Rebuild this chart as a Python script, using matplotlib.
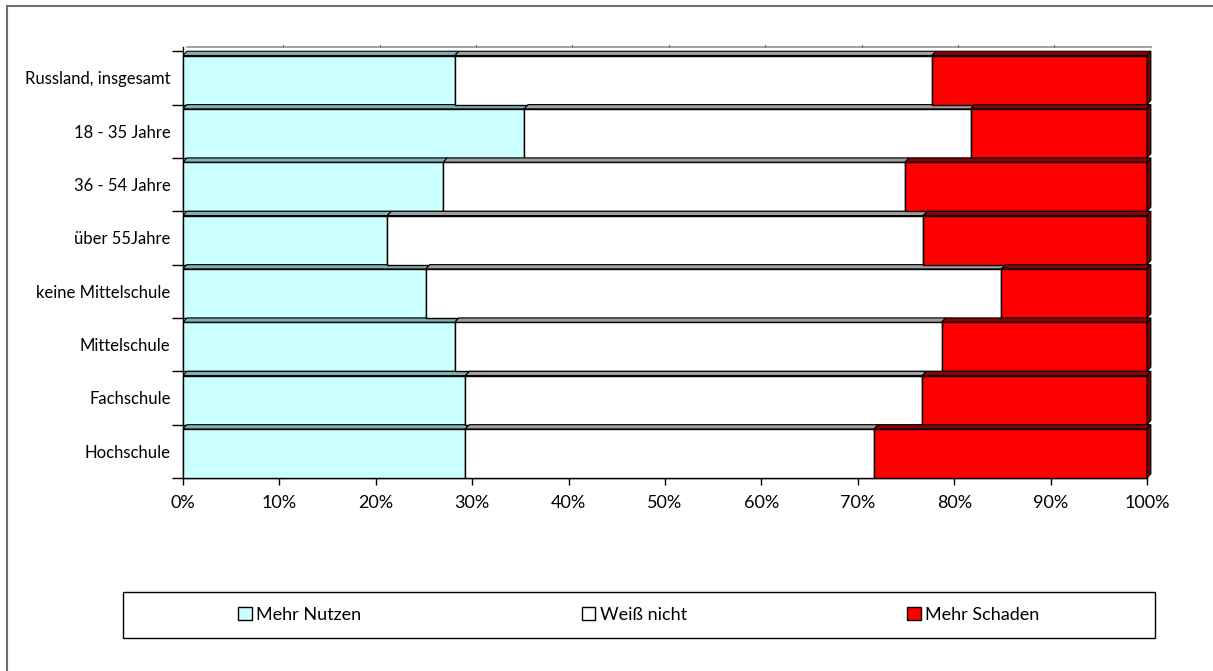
import numpy as np
import matplotlib.pyplot as plt
from matplotlib.patches import Polygon, Rectangle

# Umfrage: Nutzen oder Schaden, Anteile in Prozent
kategorien = ['Russland, insgesamt', '18 - 35 Jahre', '36 - 54 Jahre', 'über 55Jahre',
              'keine Mittelschule', 'Mittelschule', 'Fachschule', 'Hochschule']
mehr_nutzen = [28.2, 35.4, 27.0, 21.2, 25.2, 28.2, 29.3, 29.3]
weiss_nicht = [49.5, 46.3, 47.9, 55.6, 59.7, 50.5, 47.4, 42.4]
mehr_schaden = [22.3, 18.3, 25.1, 23.2, 15.1, 21.3, 23.3, 28.3]
reihen = ['Mehr Nutzen', 'Weiß nicht', 'Mehr Schaden']

farben = ['#CCFFFF', '#FFFFFF', '#FF0000']
deckel = ['#7FAFAF', '#A0A0A0', '#8B0000']

plt.rcParams['font.family'] = ['Lato', 'DejaVu Sans']

fig = plt.figure(figsize=(12.13, 6.71), dpi=100)
ax = fig.add_axes([0.1509, 0.2876, 0.7947, 0.6424])

n = len(kategorien)
y = np.arange(n)[::-1]          # erste Kategorie oben
hoehe = 0.92
tiefe_y = 0.08
tiefe_x = 0.4

werte = np.array([mehr_nutzen, weiss_nicht, mehr_schaden])
links = np.zeros(n)
for k in range(3):
    for i in range(n):
        x0 = links[i]
        w = werte[k, i]
        yb = y[i] - 0.5
        yt = yb + hoehe
        # Vorderseite
        ax.add_patch(Rectangle((x0, yb), w, hoehe, facecolor=farben[k],
                               edgecolor='black', linewidth=1.0, zorder=3, clip_on=False))
        # Oberseite (3D-Effekt)
        ax.add_patch(Polygon([(x0, yt), (x0 + tiefe_x, yt + tiefe_y),
                              (x0 + w + tiefe_x, yt + tiefe_y), (x0 + w, yt)],
                             closed=True, facecolor=deckel[k], edgecolor='black',
                             linewidth=0.8, zorder=3, clip_on=False))
        if k == 2:
            # rechte Seitenfläche
            ax.add_patch(Polygon([(x0 + w, yb), (x0 + w + tiefe_x, yb + tiefe_y),
                                  (x0 + w + tiefe_x, yt + tiefe_y), (x0 + w, yt)],
                                 closed=True, facecolor='#700000', edgecolor='black',
                                 linewidth=0.8, zorder=3, clip_on=False))
    links = links + werte[k]

# Rückwand-Oberkante mit kleinen Teilstrichen
ax.plot([tiefe_x, 100 + tiefe_x], [n - 0.5 + tiefe_y] * 2, color='#909090', lw=1.2, zorder=2,
        clip_on=False)
for xt in range(10, 100, 10):
    ax.plot([xt + tiefe_x] * 2, [n - 0.5 + tiefe_y, n - 0.5 + tiefe_y + 0.03],
            color='#707070', lw=0.8, clip_on=False)

ax.set_xlim(0, 100)
ax.set_ylim(-0.5, n - 0.5 + tiefe_y)
ax.set_xticks(np.arange(0, 101, 10))
ax.set_xticklabels([f'{v}%' for v in range(0, 101, 10)], fontsize=13)
ax.set_yticks(y)
ax.set_yticklabels(kategorien, fontsize=12)
ax.tick_params(axis='y', length=0, pad=9)
ax.tick_params(axis='x', length=5, width=1, pad=7)
ax.set_yticks(np.arange(n + 1) - 0.5, minor=True)
ax.tick_params(axis='y', which='minor', length=8, width=1)

for s in ['top', 'right']:
    ax.spines[s].set_visible(False)
ax.spines['left'].set_linewidth(1.0)
ax.spines['bottom'].set_linewidth(1.0)

# Legende: Rahmen separat, Einträge mittig darin
box = (123 / 1213, 1 - 638 / 671, 1032 / 1213, 46 / 671)
fig.add_artist(Rectangle(box[:2], box[2], box[3], transform=fig.transFigure,
                         facecolor='white', edgecolor='black', linewidth=1.0))
handles = [Rectangle((0, 0), 1, 1, facecolor=farben[k], edgecolor='black', linewidth=1)
           for k in range(3)]
leg = fig.legend(handles, reihen, loc='center', ncol=3,
                 bbox_to_anchor=(box[0] + box[2] / 2, box[1] + box[3] / 2),
                 frameon=False, fontsize=13,
                 handlelength=0.75, handleheight=0.75, handletextpad=0.25,
                 borderaxespad=0, columnspacing=12.2)

# Rahmen um das Diagramm (rechts und unten abgeschnitten)
fig.add_artist(plt.Line2D([7 / 1213, 1.0], [1 - 6 / 671] * 2, color='#707070', lw=1.5))
fig.add_artist(plt.Line2D([7 / 1213] * 2, [0, 1 - 6 / 671], color='#707070', lw=1.5))

fig.savefig('out.png', dpi=100)
